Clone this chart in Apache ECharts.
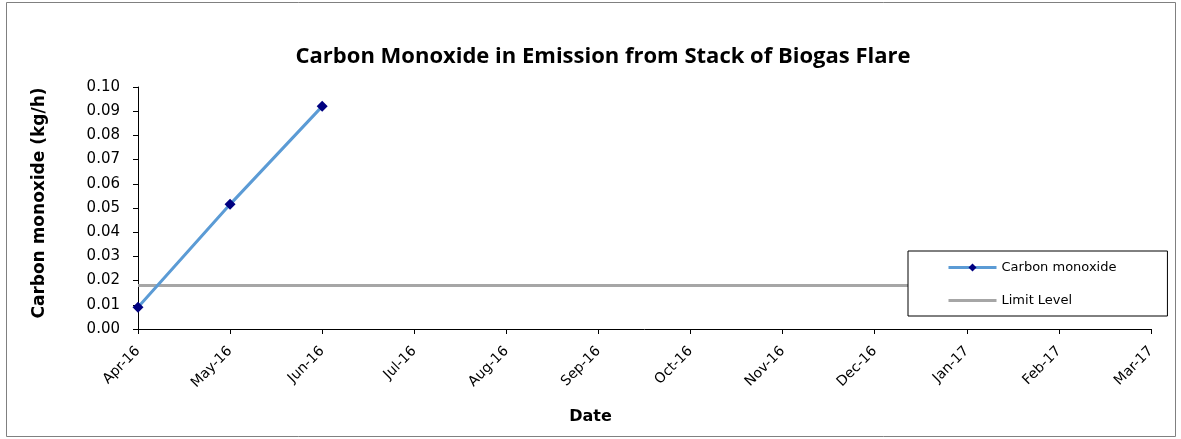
<!DOCTYPE html>
<html>
<head>
<meta charset="utf-8">
<script src="https://cdn.jsdelivr.net/npm/echarts@6/dist/echarts.min.js"></script>
<style>
  html, body { margin: 0; padding: 0; background: #fff; }
  #chartmain { width: 1181px; height: 439px; }
</style>
</head>
<body>
<div id="chartmain"></div>
<script>
var months = ['Apr-16', 'May-16', 'Jun-16', 'Jul-16', 'Aug-16', 'Sep-16', 'Oct-16', 'Nov-16', 'Dec-16', 'Jan-17', 'Feb-17', 'Mar-17'];
var carbonMonoxide = [0.009, 0.0515, 0.092, null, null, null, null, null, null, null, null, null];
var limitLevel = [0.018, 0.018, 0.018, 0.018, 0.018, 0.018, 0.018, 0.018, 0.018, 0.018, 0.018, 0.018];

var font = 'DejaVu Sans, Verdana, sans-serif';

var option = {
  animation: false,
  backgroundColor: '#fff',
  title: {
    text: 'Carbon Monoxide in Emission from Stack of Biogas Flare',
    left: 598,
    textAlign: 'center',
    top: 41,
    textStyle: { fontFamily: 'Open Sans, sans-serif', fontSize: 22, fontWeight: 'bold', color: '#000' }
  },
  graphic: [{
    type: 'rect',
    shape: { x: 6.5, y: 2.5, width: 1169, height: 434 },
    style: { fill: 'none', stroke: '#808080', lineWidth: 1 },
    z: -1
  }],
  legend: {
    orient: 'vertical',
    left: 908,
    top: 251,
    padding: [10, 51, 9, 39],
    itemWidth: 48,
    itemHeight: 10,
    itemGap: 20,
    backgroundColor: '#fff',
    borderColor: '#000',
    borderWidth: 1,
    lineStyle: { width: 3 },
    textStyle: { fontFamily: font, fontSize: 13, color: '#000' },
    data: [
      { name: 'Carbon monoxide' },
      { name: 'Limit Level', itemStyle: { opacity: 0 } }
    ]
  },
  grid: { left: 138, right: 30, top: 87, bottom: 110 },
  xAxis: {
    type: 'category',
    data: months,
    boundaryGap: false,
    name: 'Date',
    nameLocation: 'middle',
    nameGap: 80,
    nameTextStyle: { fontFamily: font, fontSize: 16, fontWeight: 'bold', color: '#000', padding: [0, 108, 0, 0] },
    axisLine: { lineStyle: { color: '#000', width: 1 } },
    axisTick: { show: true, length: 5, lineStyle: { color: '#000' } },
    axisLabel: { rotate: 45, fontFamily: font, fontSize: 14, color: '#000', margin: 20, interval: 0 },
    splitLine: { show: false }
  },
  yAxis: {
    type: 'value',
    min: 0,
    max: 0.1,
    interval: 0.01,
    name: 'Carbon monoxide (kg/h)',
    nameLocation: 'middle',
    nameGap: 90,
    nameRotate: 90,
    nameTextStyle: { fontFamily: font, fontSize: 17, fontWeight: 'bold', color: '#000', padding: [0, 0, 0, 10] },
    axisLine: { show: true, lineStyle: { color: '#000', width: 1 } },
    axisTick: { show: true, length: 5, lineStyle: { color: '#000' } },
    axisLabel: {
      fontFamily: font, fontSize: 15, color: '#000', margin: 18,
      formatter: function (v) { return v.toFixed(2); }
    },
    splitLine: { show: false }
  },
  series: [
    {
      name: 'Limit Level',
      type: 'line',
      data: limitLevel,
      symbol: 'none',
      lineStyle: { color: '#A6A6A6', width: 3 },
      itemStyle: { color: '#A6A6A6' },
      z: 1
    },
    {
      name: 'Carbon monoxide',
      type: 'line',
      data: carbonMonoxide,
      symbol: 'diamond',
      symbolSize: 11,
      lineStyle: { color: '#5B9BD5', width: 3 },
      itemStyle: { color: '#000080', borderWidth: 0 },
      z: 3
    }
  ]
};

var myChart = echarts.init(document.getElementById('chartmain'));
myChart.setOption(option);
</script>
</body>
</html>
